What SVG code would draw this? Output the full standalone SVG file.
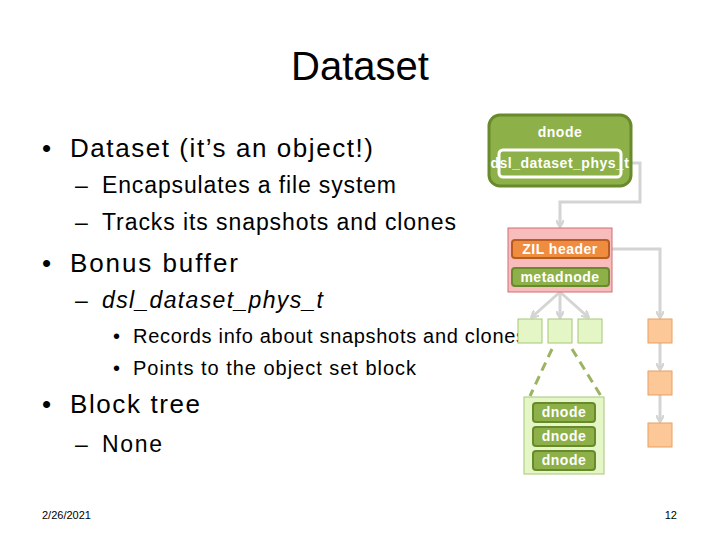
<svg xmlns="http://www.w3.org/2000/svg" width="720" height="540" viewBox="0 0 720 540">
<style>
text{font-family:"Liberation Sans",Arial,sans-serif;fill:#000}
.b{font-size:26px}.s{font-size:23px}.t{font-size:20px}
.w{fill:#fff;font-weight:bold;font-size:14px;text-anchor:middle;letter-spacing:0.5px}
.gb{fill:#8db048;stroke:#688a2c;stroke-width:3}
.lg{fill:#e4f6c6;stroke:#a6c878;stroke-width:1}
.og{fill:#fcc898;stroke:#e8a060;stroke-width:1}
.c{fill:none;stroke:#d4d4d4;stroke-width:3}
</style>
<defs><marker id="a" markerWidth="8" markerHeight="8" refX="6" refY="4" orient="auto" markerUnits="userSpaceOnUse"><path d="M0,0 L7,4 L0,8" fill="none" stroke="#d4d4d4" stroke-width="2.5"/></marker></defs>
<rect width="720" height="540" fill="#fff"/>
<text x="360" y="80" font-size="40" text-anchor="middle">Dataset</text>
<text x="42" y="157" class="b">•</text><text x="70" y="157" class="b" textLength="303">Dataset (it’s an object!)</text>
<text x="75" y="193" class="s">–</text><text x="102" y="193" class="s" textLength="294">Encapsulates a file system</text>
<text x="75" y="230" class="s">–</text><text x="102" y="230" class="s" textLength="354">Tracks its snapshots and clones</text>
<text x="42" y="272" class="b">•</text><text x="70" y="272" class="b" textLength="168">Bonus buffer</text>
<text x="75" y="308" class="s">–</text><text x="102" y="308" class="s" font-style="italic" textLength="221">dsl_dataset_phys_t</text>
<text x="113" y="343" class="t">•</text><text x="133" y="343" class="t" textLength="393">Records info about snapshots and clones</text>
<text x="113" y="375" class="t">•</text><text x="133" y="375" class="t" textLength="283">Points to the object set block</text>
<text x="42" y="413" class="b">•</text><text x="70" y="413" class="b" textLength="130">Block tree</text>
<text x="75" y="452" class="s">–</text><text x="102" y="452" class="s" textLength="60">None</text>
<text x="42" y="519" font-size="11" fill="#555">2/26/2021</text>
<text x="677" y="519" font-size="11" text-anchor="end">12</text>
<g id="connectors">
<path class="c" d="M622,163 H640 V202 H560 V226" marker-end="url(#a)"/>
<path class="c" d="M609,249 H660 V317" marker-end="url(#a)"/>
<path class="c" d="M660,343 V369" marker-end="url(#a)"/>
<path class="c" d="M660,395 V421" marker-end="url(#a)"/>
<path class="c" d="M560,292 L532,317" marker-end="url(#a)"/>
<path class="c" d="M560,292 V317" marker-end="url(#a)"/>
<path class="c" d="M560,292 L588,317" marker-end="url(#a)"/>
<path d="M552,349 L530,396 M572,349 L601,396" stroke="#9ab460" stroke-width="3" stroke-dasharray="9,6" fill="none"/>
</g>
<g id="dnode"><rect x="489" y="115" width="142" height="71" rx="11" class="gb"/>
<text x="560" y="137" class="w">dnode</text>
<rect x="499" y="150" width="122" height="27" rx="4" fill="#8db048" stroke="#fff" stroke-width="3"/>
<text x="560" y="168" class="w" font-weight="normal" font-size="11" letter-spacing="0">dsl_dataset_phys_t</text></g>
<g id="objset"><rect x="508" y="228" width="104" height="64" fill="#f8bcbc" stroke="#d07070"/>
<rect x="512" y="240" width="97" height="18" rx="3" fill="#f08c40" stroke="#b85c20" stroke-width="2"/>
<text x="560" y="254" class="w" font-weight="normal" font-size="13">ZIL header</text>
<rect x="512" y="268" width="97" height="18" rx="3" fill="#8db048" stroke="#688a2c" stroke-width="2"/>
<text x="560" y="282" class="w" font-size="13" font-weight="normal" letter-spacing="1">metadnode</text></g>
<g id="leaf1"><rect x="518" y="319" width="24" height="24" class="lg"/></g>
<g id="leaf2"><rect x="548" y="319" width="24" height="24" class="lg"/></g>
<g id="leaf3"><rect x="578" y="319" width="24" height="24" class="lg"/></g>
<g id="zil1"><rect x="648" y="319" width="24" height="24" class="og"/></g>
<g id="zil2"><rect x="648" y="371" width="24" height="24" class="og"/></g>
<g id="zil3"><rect x="648" y="423" width="24" height="24" class="og"/></g>
<g id="dnodeblock"><rect x="524" y="397" width="80" height="77" class="lg"/>
<rect x="533" y="403" width="62" height="19" rx="3" fill="#8db048" stroke="#688a2c" stroke-width="2"/><text x="564" y="417" class="w" font-size="13" font-weight="normal">dnode</text>
<rect x="533" y="427" width="62" height="19" rx="3" fill="#8db048" stroke="#688a2c" stroke-width="2"/><text x="564" y="441" class="w" font-size="13" font-weight="normal">dnode</text>
<rect x="533" y="451" width="62" height="19" rx="3" fill="#8db048" stroke="#688a2c" stroke-width="2"/><text x="564" y="465" class="w" font-size="13" font-weight="normal">dnode</text></g>
</svg>
